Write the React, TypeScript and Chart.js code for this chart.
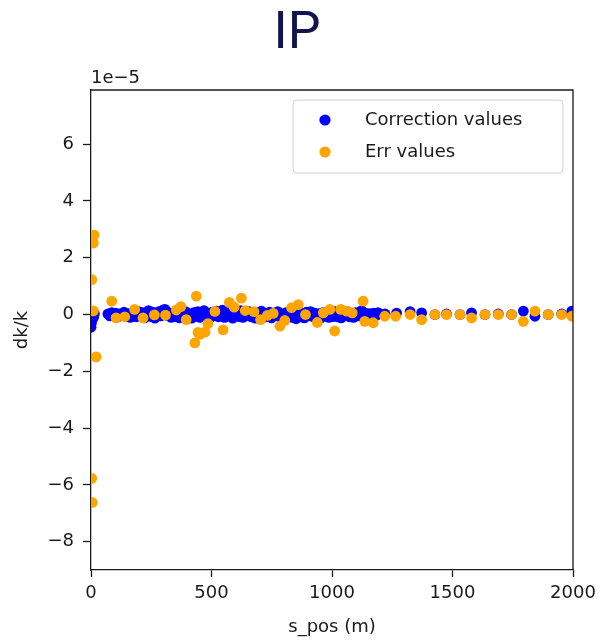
import React, { useEffect, useRef } from "react";
import { Chart, registerables } from "chart.js";

Chart.register(...registerables);

const titleText = "IP";
const xLabel = "s_pos (m)";
const yLabel = "dk/k";
const offsetLabel = "1e\u22125";
const seriesNames = ["Correction values", "Err values"];
const xTicks = [0, 500, 1000, 1500, 2000];
const yTicks = [-8, -6, -4, -2, 0, 2, 4, 6];

// Correction values (units of 1e-5)
const corrS = [0, 2, 4, 7, 11, 14,
  70, 78, 86, 95, 103, 112, 120, 129, 137, 146, 154, 163, 171, 180, 188, 197, 205, 214, 222, 231, 239, 248, 256, 265,
  273, 282, 290, 299, 307, 316, 324, 333, 341, 350, 358, 367, 375, 384, 392, 401, 409, 418, 426, 435, 443, 452, 460,
  469, 477, 486, 494, 503, 511, 520, 528, 537, 545, 554, 562, 571, 579, 588, 596, 605, 613, 622, 630, 639, 647, 656,
  664, 673, 681, 690, 698, 707, 715, 724, 732, 741, 749, 758, 766, 775, 783, 792, 800, 809, 817, 826, 834, 843, 851,
  860, 868, 877, 885, 894, 902, 911, 919, 928, 936, 945, 953, 962, 970, 979, 987, 996, 1004, 1013, 1021, 1030, 1038,
  1047, 1055, 1064, 1072, 1081, 1089, 1098, 1106, 1115, 1123, 1132, 1140, 1149, 1157, 1166, 1174, 1183, 1191,
  1220, 1268, 1324, 1372, 1427, 1475, 1531, 1579, 1635, 1690, 1745, 1794, 1842, 1897, 1953, 1995];
const corrV = [-0.45, -0.3, -0.15, 0.0, -0.1, 0.03,
  0.02, -0.05, 0.07, -0.03, 0.05, -0.08, 0.02, -0.04, 0.08, -0.07, 0.03, -0.1, 0.05, 0.0, -0.08, 0.1, -0.03, 0.07, -0.12, 0.04, 0.14, -0.07, 0.08, -0.13,
  0.03, 0.1, -0.05, 0.16, 0.18, -0.03, 0.07, -0.1, 0.03, -0.07, 0.08, -0.12, 0.05, -0.03, 0.1, -0.08, 0.01, -0.13, 0.07, -0.05, 0.1, -0.1, 0.03,
  0.14, -0.07, 0.05, -0.12, 0.08, -0.03, 0.12, -0.08, 0.03, 0.15, -0.1, 0.05, -0.05, 0.1, -0.13, 0.03, 0.08, -0.07, 0.14, -0.1, 0.05, -0.03, 0.1,
  -0.08, 0.03, -0.13, 0.07, -0.05, 0.12, -0.1, 0.03, -0.07, 0.08, -0.12, 0.05, -0.03, 0.1, -0.08, 0.01, -0.14, 0.07, -0.05, 0.1, -0.1, 0.03, -0.15,
  0.07, -0.08, 0.03, -0.12, 0.08, -0.03, 0.1, -0.07, 0.05, -0.1, 0.03, -0.13, 0.07, -0.05, 0.08, -0.1, 0.03, -0.07, 0.1, -0.08, 0.03, -0.12,
  0.07, -0.03, 0.1, -0.08, 0.03, -0.1, 0.07, -0.05, 0.08, 0.14, -0.07, 0.05, -0.1, 0.03, -0.07, 0.05, -0.03, 0.07,
  0.02, 0.05, 0.1, 0.06, 0.0, 0.02, 0.0, 0.06, 0.0, 0.02, 0.0, 0.12, -0.06, 0.0, 0.02, 0.12];

// Err values (units of 1e-5)
const errS = [13, 10, 3, 10, 21, 3, 5, 86, 104, 140, 181, 216, 263, 309, 354, 373, 395, 437, 431, 444, 452, 473, 485,
  514, 548, 574, 594, 624, 640, 676, 704, 732, 756, 784, 804, 832, 860, 890, 939, 964, 991, 1011, 1036, 1061, 1084,
  1129, 1136, 1171, 1219, 1264, 1324, 1372, 1427, 1475, 1531, 1579, 1635, 1690, 1745, 1794, 1842, 1897, 1953, 1995];
const errV = [2.8, 2.52, 1.23, 0.13, -1.49, -5.77, -6.62, 0.47, -0.12, -0.08, 0.18, -0.12, -0.01, -0.02, 0.16, 0.28, -0.18, 0.65, -1.0, -0.63, -0.7, -0.62, -0.32,
  0.11, -0.54, 0.43, 0.26, 0.58, 0.14, 0.1, -0.18, -0.03, 0.04, -0.41, -0.21, 0.24, 0.35, 0.0, -0.28, 0.06, 0.18, -0.58, 0.18, 0.12, 0.06,
  0.47, -0.24, -0.29, -0.06, -0.06, 0.0, -0.18, 0.0, 0.0, 0.0, -0.12, 0.0, 0.0, 0.0, -0.24, 0.12, 0.0, 0.0, -0.06];

const BLUE = "#0000ff";
const ORANGE = "#ffa500";
const TEXT = "#1a1a1a";
const FONT = "'DejaVu Sans', sans-serif";

const fmt = (v: number) => (v < 0 ? "\u2212" + String(-v) : String(v));

const decorPlugin = {
  id: "decor",
  afterDraw(chart: any) {
    const { ctx, chartArea } = chart;
    const { left, right, top, bottom } = chartArea;
    ctx.save();
    ctx.strokeStyle = TEXT;
    ctx.lineWidth = 1.3;
    ctx.beginPath();
    ctx.moveTo(left, top);
    ctx.lineTo(right, top);
    ctx.lineTo(right, bottom);
    ctx.stroke();
    ctx.fillStyle = "#131350";
    ctx.font = "52px Roboto, sans-serif";
    ctx.textAlign = "center";
    ctx.textBaseline = "alphabetic";
    ctx.fillText(titleText, 297, 48);
    ctx.fillStyle = TEXT;
    ctx.font = `18px ${FONT}`;
    ctx.textAlign = "left";
    ctx.fillText(offsetLabel, left, 83);
    ctx.textAlign = "center";
    ctx.textBaseline = "middle";
    ctx.fillText(xLabel, (left + right) / 2, 627);
    ctx.save();
    ctx.translate(22, (top + bottom) / 2);
    ctx.rotate(-Math.PI / 2);
    ctx.fillText(yLabel, 0, 0);
    ctx.restore();
    const lx = 293, ly = 100, lw = 270, lh = 73, r = 4;
    ctx.beginPath();
    ctx.moveTo(lx + r, ly);
    ctx.arcTo(lx + lw, ly, lx + lw, ly + lh, r);
    ctx.arcTo(lx + lw, ly + lh, lx, ly + lh, r);
    ctx.arcTo(lx, ly + lh, lx, ly, r);
    ctx.arcTo(lx, ly, lx + lw, ly, r);
    ctx.closePath();
    ctx.fillStyle = "rgba(255,255,255,0.8)";
    ctx.fill();
    ctx.strokeStyle = "#d0d0d0";
    ctx.lineWidth = 1;
    ctx.stroke();
    const colors = [BLUE, ORANGE];
    const rows = [120, 152];
    seriesNames.forEach((name, i) => {
      ctx.fillStyle = colors[i];
      ctx.beginPath();
      ctx.arc(325, rows[i], 5.6, 0, Math.PI * 2);
      ctx.fill();
      ctx.fillStyle = TEXT;
      ctx.textAlign = "left";
      ctx.textBaseline = "middle";
      ctx.font = `18px ${FONT}`;
      ctx.fillText(name, 365, rows[i]);
    });
    ctx.restore();
  },
};

export default function App() {
  const ref = useRef<HTMLCanvasElement>(null);
  useEffect(() => {
    const canvas = ref.current;
    if (!canvas) return;
    const chart = new Chart(canvas, {
      type: "scatter",
      data: {
        datasets: [
          {
            label: seriesNames[0],
            data: corrS.map((s, i) => ({ x: s, y: corrV[i] })),
            backgroundColor: BLUE,
            borderWidth: 0,
            pointRadius: 5.4,
            order: 2,
            clip: 0,
          },
          {
            label: seriesNames[1],
            data: errS.map((s, i) => ({ x: s, y: errV[i] })),
            backgroundColor: ORANGE,
            borderWidth: 0,
            pointRadius: 5.4,
            order: 1,
            clip: 0,
          },
        ],
      },
      options: {
        responsive: false,
        animation: false,
        devicePixelRatio: 1,
        layout: { padding: { top: 90, right: 33, left: 0, bottom: 0 } },
        plugins: { legend: { display: false }, tooltip: { enabled: false }, title: { display: false } },
        scales: {
          x: {
            type: "linear",
            min: 0,
            max: 2000,
            afterBuildTicks: (scale: any) => { scale.ticks = xTicks.map((v) => ({ value: v })); },
            afterFit: (scale: any) => { scale.height = 72; },
            ticks: { color: TEXT, font: { family: FONT, size: 18 }, padding: 6, maxRotation: 0, autoSkip: false, callback: (v: any) => fmt(Number(v)) },
            grid: { display: true, drawOnChartArea: false, drawTicks: true, tickLength: 7, tickWidth: 1.3, tickColor: TEXT },
            border: { display: true, color: TEXT, width: 1.3 },
          },
          y: {
            type: "linear",
            min: -9.0,
            max: 7.91,
            afterBuildTicks: (scale: any) => { scale.ticks = yTicks.map((v) => ({ value: v })); },
            afterFit: (scale: any) => { scale.width = 91; },
            ticks: { color: TEXT, font: { family: FONT, size: 18 }, padding: 9, autoSkip: false, callback: (v: any) => fmt(Number(v)) },
            grid: { display: true, drawOnChartArea: false, drawTicks: true, tickLength: 8, tickWidth: 1.3, tickColor: TEXT },
            border: { display: true, color: TEXT, width: 1.3 },
          },
        },
      },
      plugins: [decorPlugin],
    } as any);
    return () => chart.destroy();
  }, []);
  return (
    <div style={{ position: "fixed", left: 0, top: 0, width: 606, height: 642, background: "#fff" }}>
      <canvas ref={ref} width={606} height={642} style={{ width: 606, height: 642, display: "block" }} />
    </div>
  );
}
